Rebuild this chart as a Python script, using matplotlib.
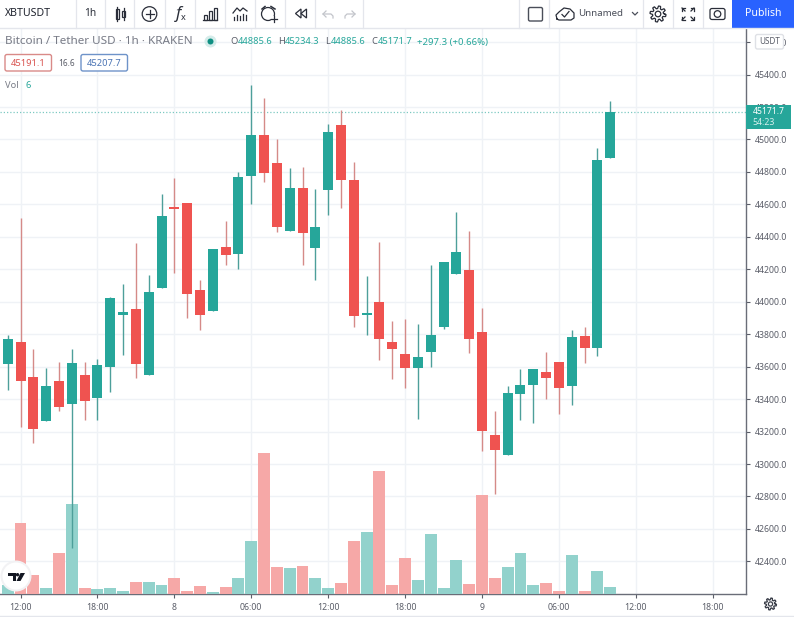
import numpy as np
import matplotlib
matplotlib.use("Agg")
import matplotlib.pyplot as plt
from matplotlib.patches import Rectangle, Circle, FancyBboxPatch, Polygon

# --- Data ---
opens = [43616, 43752, 43534, 43267, 43510, 43372, 43549, 43409, 43600, 43920, 43957, 43551,
         44087, 44582, 44609, 44072, 43941, 44337, 44296, 44777, 45030, 44855, 44434, 44703,
         44329, 44691, 45087, 44750, 43916, 44000, 43752, 43678, 43594, 43692, 43847, 44173,
         44196, 43814, 43179, 43058, 43434, 43489, 43567, 43629, 43481, 43787, 43717, 44885.6]
closes = [43772, 43514, 43214, 43479, 43351, 43620, 43388, 43610, 44023, 43935, 43616, 44058,
          44528, 44574, 44050, 43920, 44323, 44288, 44769, 45026, 44796, 44463, 44703, 44426,
          44461, 45048, 44752, 43912, 43933, 43768, 43707, 43594, 43659, 43795, 44247, 44305,
          43770, 43206, 43086, 43436, 43487, 43586, 43532, 43471, 43783, 43717, 44874, 45171.7]
highs = [43795, 44514, 43711, 43590, 43629, 43707, 43629, 43645, 44030, 44109, 44360, 44165,
         44664, 44763, 44609, 44134, 44323, 44498, 44802, 45336, 45254, 45001, 44824, 44828,
         44693, 45096, 45182, 44859, 44161, 44370, 43881, 43892, 43863, 44224, 44247, 44551,
         44436, 43959, 43327, 43481, 43586, 43586, 43690, 43629, 43826, 43842, 44946, 45234.3]
lows = [43456, 43230, 43132, 43267, 43329, 42482, 43271, 43271, 43446, 43670, 43532, 43551,
        44087, 44179, 43898, 43826, 43941, 44224, 44202, 44602, 44740, 44430, 44434, 44229,
        44134, 44535, 44576, 43847, 43795, 43641, 43522, 43466, 43275, 43600, 43830, 44173,
        43686, 43082, 42815, 43058, 43271, 43251, 43399, 43308, 43364, 43625, 43666, 44885.6]
volumes = [7.5, 60.8, 16.6, 5.4, 35, 77.1, 5.4, 4.6, 5.4, 2.8, 10.6, 10,
           7.5, 13.5, 2.8, 6.6, 1.5, 6, 13.5, 45.3, 121.3, 23.2, 22.1, 23.8,
           13.5, 5.4, 9.2, 45.3, 53.1, 105.5, 8, 30.7, 11.8, 51.6, 4.9, 29,
           8.6, 85.4, 13.5, 23.2, 35, 7.5, 9.2, 2.3, 33.3, 2.8, 19.5, 6]
time_ticks = [1, 7, 13, 19, 25, 31, 37, 43, 49, 55]
time_labels = ["12:00", "18:00", "8", "06:00", "12:00", "18:00", "9", "06:00", "12:00", "18:00"]
price_ticks = list(range(42400, 45601, 200))
last_price = 45171.7

UP = "#26a69a"
DOWN = "#ef5350"
UP_WICK = "#4d9f9a"
DOWN_WICK = "#d58a88"
UP_VOL = "#92d2cc"
DOWN_VOL = "#f6a8a7"
GRID = "#eff2f6"
TEXT = "#5a5d68"
FONT = "Noto Sans"

plt.rcParams["font.family"] = [FONT, "DejaVu Sans"]

W, H = 794, 617
fig = plt.figure(figsize=(W / 100, H / 100), dpi=100, facecolor="white")

# main pane: x 0..745.7, y 28..594 in pixels
ax = fig.add_axes([0, 1 - 594 / H, 745.7 / W, (594 - 28) / H])
ax.set_xlim(-0.6, 57.57)
ax.set_ylim(42199, 45687)

idx = np.arange(len(opens))
o = np.array(opens)
c = np.array(closes)
up = c >= o

# volume sits over the grid, candles over the volume
vol_ax = ax.twinx()
vol_ax.set_ylim(0, 486)
vol_ax.axis("off")
vol_ax.bar(idx, volumes, width=0.93, color=[UP_VOL if u else DOWN_VOL for u in up], linewidth=0)

price_ax = ax.twinx()
price_ax.set_ylim(ax.get_ylim())
price_ax.axis("off")
price_ax.vlines(idx, lows, highs, colors=[UP_WICK if u else DOWN_WICK for u in up], lw=1, zorder=3)
price_ax.bar(idx, np.abs(c - o), bottom=np.minimum(o, c), width=0.78,
             color=[UP if u else DOWN for u in up], linewidth=0, zorder=4)
price_ax.axhline(last_price, color=UP, lw=0.9, ls=(0, (1, 1.6)), alpha=0.6, zorder=2)

ax.set_facecolor("white")
ax.set_axisbelow(True)
ax.grid(True, color=GRID, lw=1)
ax.yaxis.tick_right()
ax.set_yticks(price_ticks)
ax.set_yticklabels([f"{p:.1f}" for p in price_ticks])
ax.set_xticks(time_ticks)
ax.set_xticklabels(time_labels)
ax.tick_params(axis="y", length=3, width=0.8, color=TEXT, labelcolor=TEXT, labelsize=6.3, pad=3.5)
ax.tick_params(axis="x", length=3, width=0.8, color=TEXT, labelcolor=TEXT, labelsize=6.3, pad=3.5)
for side in ["top", "left"]:
    ax.spines[side].set_visible(False)
for side in ["right", "bottom"]:
    ax.spines[side].set_color("#6a6d78")
    ax.spines[side].set_linewidth(1)

# --- Overlay in pixel coordinates: toolbar, legend, badges ---
ui = fig.add_axes([0, 0, 1, 1], zorder=10)
ui.set_xlim(0, W)
ui.set_ylim(H, 0)
ui.axis("off")
ui.patch.set_visible(False)

LINE = "#e4e6ec"
ICON = "#2a2e39"


def label(x, y, s, color=TEXT, size=7, ha="left", **kw):
    ui.text(x, y, s, color=color, fontsize=size, ha=ha, va="center", **kw)


def box(x0, y0, x1, y1, edge, face="white", lw=1, r=2):
    ui.add_patch(FancyBboxPatch((x0, y0), x1 - x0, y1 - y0, boxstyle=f"round,pad=0,rounding_size={r}",
                                ec=edge, fc=face, lw=lw))


def gear(x, y, r, color=ICON):
    ang = np.linspace(0, 2 * np.pi, 97)
    rad = r * (0.84 + 0.16 * np.tanh(4 * np.sin(8 * ang)))
    ui.plot(x + rad * np.cos(ang), y + rad * np.sin(ang), color=color, lw=0.9)
    ui.add_patch(Circle((x, y), r * 0.35, fc="none", ec=color, lw=0.9))


ui.add_patch(Rectangle((0, 0), W, 28, fc="white", ec="none"))
ui.plot([0, W], [28, 28], color=LINE, lw=1)
for sx in [75.7, 104.7, 134, 164.7, 194.7, 224.7, 254.7, 284.7, 315, 363, 519, 549, 643, 672.7, 703]:
    ui.plot([sx, sx], [0, 28], color=LINE, lw=0.9)
ui.add_patch(Rectangle((732, 0), 62, 28, fc="#2962ff", ec="none"))

label(5, 14, "XBTUSDT", color="#1e222d", size=7.6, fontweight="semibold")
label(90, 14, "1h", color=ICON, size=7.3, ha="center")

# candle icon
ui.add_patch(Rectangle((115.5, 9), 3.5, 10, fc="none", ec=ICON, lw=0.9))
ui.plot([117.2, 117.2], [7, 21], color=ICON, lw=0.9)
ui.add_patch(Rectangle((122, 11), 3, 6, fc="none", ec=ICON, lw=0.9))
ui.plot([123.5, 123.5], [8, 20], color=ICON, lw=0.9)
# add
ui.add_patch(Circle((149.5, 14), 7.3, fc="none", ec=ICON, lw=0.9))
ui.plot([145.5, 153.5], [14, 14], color=ICON, lw=0.9)
ui.plot([149.5, 149.5], [10, 18], color=ICON, lw=0.9)
# fx
label(178, 13.5, "f", color=ICON, size=12, ha="center", style="italic")
label(183, 18, "x", color=ICON, size=6.5, ha="center")
# bars icon
for bx, by in [(204, 15), (209, 11), (214, 8)]:
    ui.add_patch(Rectangle((bx, by), 3.4, 20 - by, fc="none", ec=ICON, lw=0.9))
ui.plot([203, 217], [20, 20], color=ICON, lw=0.9)
# indicator icon
ui.plot([233, 237, 240, 243, 247], [13, 8, 11, 8, 11], color=ICON, lw=0.9)
for bx, by in [(234, 17), (237, 15), (240, 16), (243, 14), (246, 15)]:
    ui.plot([bx, bx], [by, 20], color=ICON, lw=0.9)
# alarm icon
ui.add_patch(Circle((268, 14), 6.5, fc="none", ec=ICON, lw=0.9))
ui.plot([262, 265], [9, 6.5], color=ICON, lw=1.1)
ui.plot([271, 275], [6.5, 9], color=ICON, lw=1.1)
ui.add_patch(Rectangle((270.5, 15.5), 6.5, 6, fc="white", ec="none"))
ui.plot([270.5, 277], [18.5, 18.5], color=ICON, lw=0.9)
ui.plot([273.7, 273.7], [15.5, 21.5], color=ICON, lw=0.9)
# replay icon
ui.add_patch(Polygon([(301, 9), (301, 18), (295.5, 13.5)], fc="none", ec=ICON, lw=0.9))
ui.add_patch(Polygon([(306.5, 9), (306.5, 18), (301, 13.5)], fc="none", ec=ICON, lw=0.9))
# undo / redo
ui.plot([326, 323, 326], [11, 14, 17], color="#c3c5cb", lw=0.9)
ui.plot([323, 331, 333, 333], [14, 14, 16, 18], color="#c3c5cb", lw=0.9)
ui.plot([352, 355, 352], [11, 14, 17], color="#c3c5cb", lw=0.9)
ui.plot([355, 347, 345, 345], [14, 14, 16, 18], color="#c3c5cb", lw=0.9)

# right side of the toolbar
box(528.5, 7.5, 542.5, 21, "#4a4e59", lw=1, r=1.5)
ui.plot([557, 556, 559, 564, 570, 574, 574, 571, 559, 557], [19, 15, 12, 8, 9, 13, 18, 20, 20, 19], color=ICON, lw=0.9)
ui.plot([562, 564.5, 569], [14.5, 17, 11.5], color=ICON, lw=0.9)
label(578, 14, "Unnamed", color="#4a4e59", size=7)
ui.plot([632.5, 635, 637.5], [12.5, 15, 12.5], color="#4a4e59", lw=0.9)
gear(658, 14, 8)
for dx, dy in [(-1, -1), (1, -1), (-1, 1), (1, 1)]:
    ux, uy = 688 + dx * 6, 14 + dy * 6
    ui.plot([ux, ux - dx * 3], [uy, uy - dy * 3], color=ICON, lw=0.9)
    ui.plot([ux - dx * 3, ux, ux], [uy, uy, uy - dy * 3], color=ICON, lw=0.9)
box(710, 8.5, 725, 19.5, ICON, lw=0.9, r=2)
ui.add_patch(Circle((717.5, 14), 3.3, fc="white", ec=ICON, lw=0.9))
label(763.5, 14, "Publish", color="white", size=7.6, ha="center", fontweight="medium")

# legend
label(5, 42, "Bitcoin / Tether USD · 1h · KRAKEN", color="#787b86", size=8.4)
ui.add_patch(Circle((210.5, 41.5), 6, fc="#d5ecea", ec="none"))
ui.add_patch(Circle((210.5, 41.5), 3, fc="#0f8f82", ec="none"))
for lx, name, vx, val in [(230, "O", 238, "44885.6"), (277.7, "H", 285, "45234.3"),
                          (325, "L", 330.7, "44885.6"), (371, "C", 377.7, "45171.7")]:
    label(lx, 42, name, color=TEXT, size=6.7)
    label(vx, 42, val, color=UP, size=6.7)
label(417, 42, "+297.3 (+0.66%)", color=UP, size=6.9)

box(5, 54.5, 51.5, 71, "#d98a88", lw=1, r=2)
label(28, 63, "45191.1", color="#d9534f", size=6.7, ha="center")
label(58, 63, "16.6", color=TEXT, size=6)
box(81, 54.5, 127.5, 71, "#6e93c9", lw=1, r=2)
label(104.2, 63, "45207.7", color="#4a74b4", size=6.7, ha="center")
label(5, 85, "Vol", color="#787b86", size=6.7)
label(25, 85, "6", color=UP, size=6.7)

# USDT badge and last price tag on the axis
box(755.5, 34.5, 783.5, 49, "#dfe1e6", lw=1, r=2)
label(769.5, 41.5, "USDT", color=TEXT, size=5.8, ha="center")
ui.add_patch(Rectangle((745.5, 105), 45, 24, fc=UP, ec="none"))
label(768.8, 111.5, "45171.7", color="white", size=6.2, ha="center", fontweight="semibold")
label(752.7, 122.5, "54:23", color="#d5f0ed", size=6.3)

# TradingView mark
ui.add_patch(Circle((16, 576), 15.5, fc="#f2f2f4", ec="none"))
ui.add_patch(Circle((16, 576), 13.5, fc="white", ec="none"))
ui.add_patch(Polygon([(8, 573), (15.5, 573), (15.5, 581), (12.5, 581), (12.5, 576), (8, 576)], fc="#131722", ec="none"))
ui.add_patch(Polygon([(20.5, 573), (25, 573), (20.5, 581), (16.5, 581)], fc="#131722", ec="none"))
ui.add_patch(Circle((17.5, 574.7), 1.7, fc="#131722", ec="none"))

# bottom right
gear(770.5, 604, 6, color="#3b3f4a")
ui.plot([0, W], [615.5, 615.5], color=LINE, lw=1)

fig.savefig("out.png", dpi=100, facecolor="white")
